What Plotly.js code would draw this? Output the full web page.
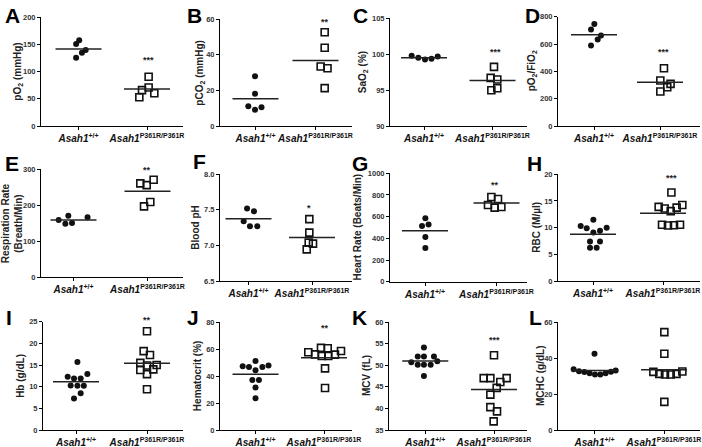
<!DOCTYPE html>
<html><head><meta charset="utf-8">
<script src="https://cdn.plot.ly/plotly-3.0.1.min.js"></script>
<style>html,body{margin:0;padding:0;background:#fff}#plot{width:702px;height:447px}</style>
</head><body><div id="plot"></div>
<script>
// ---- data ----
const groups = ['Asah1+/+', 'Asah1P361R/P361R'];
const tickLabels = ['<b><i>Asah1</i><sup>+/+</sup></b>', '<b><i>Asah1</i><sup>P361R/P361R</sup></b>'];

const aWT = [158, 150.8, 139.7, 134.8, 125.5];
const aWTJit = [0.01, -0.035, 0.105, 0.05, -0.035];
const aMut = [90.5, 70.8, 66, 60.3, 52.9];
const aMutJit = [0.024, 0.024, -0.073, 0.107, -0.112];

const bWT = [28.0, 18.1, 11.1, 9.2, 10.5];
const bWTJit = [-0.008, -0.008, -0.12, -0.008, 0.10];
const bMut = [52.7, 44.0, 33.5, 32.5, 21.3];
const bMutJit = [0.153, 0.153, 0.086, 0.2, 0.153];

const cWT = [99.78, 99.5, 99.27, 99.36, 99.69];
const cWTJit = [-0.18, -0.083, 0.015, 0.11, 0.2];
const cMut = [98.24, 96.7, 96.47, 94.98, 95.26];
const cMutJit = [0.022, -0.027, 0.07, -0.017, 0.07];

const dWT = [746, 707, 663, 634, 590];
const dWTJit = [0.005, -0.045, 0.106, 0.056, -0.045];
const dMut = [423, 333, 308, 284, 252];
const dMutJit = [0.06, 0.005, 0.16, 0.11, 0.005];

const eWT = [171, 167, 159, 149, 151];
const eWTJit = [-0.07, 0.19, -0.2, -0.11, -0.02];
const eMut = [261, 256, 271, 197, 209];
const eMutJit = [-0.097, -0.011, 0.083, -0.047, 0.038];

const fWT = [7.52, 7.48, 7.34, 7.27, 7.27];
const fWTJit = [-0.023, 0.086, -0.076, 0.023, 0.138];
const fMut = [7.37, 7.18, 7.04, 7.025, 6.945];
const fMutJit = [-0.042, -0.042, -0.052, 0.016, -0.083];

const gWT = [585, 514, 528, 412, 311];
const gWTJit = [0.005, -0.042, 0.05, 0.005, 0.005];
const gMut = [782, 763, 708, 683, 689];
const gMutJit = [-0.072, 0.021, -0.119, -0.026, 0.068];

const hWT = [11.5, 10.3, 9.9, 10.0, 9.1, 9.4, 7.4, 7.4, 6.25, 6.25];
const hWTJit = [0.005, -0.176, -0.09, 0.195, 0.005, 0.1, -0.043, 0.1, -0.043, 0.052];
const hMut = [16.6, 13.9, 13.6, 13.1, 13.75, 14.25, 10.55, 10.4, 10.45, 10.55];
const hMutJit = [0.12, -0.062, 0.024, 0.11, 0.195, 0.276, -0.014, 0.071, 0.157, 0.243];

const iWT = [15.7, 12.3, 12.9, 11.9, 11.9, 10.3, 10.2, 10.2, 8.46, 7.3];
const iWTJit = [0.02, -0.117, 0.16, -0.028, 0.066, -0.075, 0.02, 0.11, 0.066, -0.028];
const iMut = [22.8, 18.2, 17.3, 15.5, 14.9, 15.0, 13.85, 14.0, 12.9, 9.4];
const iMutJit = [0, -0.047, 0.042, -0.094, 0, 0.136, -0.094, 0.089, 0, 0];

const jWT = [51.3, 47.3, 46.8, 46.8, 48.0, 44.3, 37.2, 37.2, 31.5, 23.5];
const jWTJit = [0, -0.187, -0.095, 0.1, 0.19, 0, -0.046, 0.05, 0, 0];
const jMut = [61, 60.7, 57.7, 56.2, 55, 55, 56, 58.7, 45.8, 31.2];
const jMutJit = [-0.044, 0.054, -0.229, -0.131, -0.034, 0.063, 0.16, 0.248, 0.015, 0.015];

const kWT = [54.1, 52.0, 52.0, 52.0, 50.7, 50.1, 50.1, 50.1, 50.9, 47.5];
const kWTJit = [-0.02, -0.11, -0.02, 0.126, -0.204, -0.11, -0.02, 0.078, 0.175, -0.02];
const kMut = [52.3, 47.0, 47.0, 46.1, 47.0, 44.75, 43.2, 40.3, 39.3, 37.0];
const kMutJit = [0, -0.15, -0.053, 0.092, 0.184, 0.039, -0.053, -0.053, 0.044, -0.005];

const lWT = [42.4, 33.7, 32.6, 32.2, 31.5, 30.8, 30.8, 31.5, 32.4, 33.0];
const lWTJit = [0, -0.3, -0.223, -0.146, -0.07, 0.007, 0.084, 0.16, 0.237, 0.305];
const lMut = [54.4, 42.4, 32.3, 31.2, 30.8, 30.8, 31.2, 32.5, 15.6];
const lMutJit = [0.005, 0.005, -0.153, -0.067, 0.014, 0.096, 0.18, 0.264, 0.005];

const panelLetters = ['A','B','C','D','E','F','G','H','I','J','K','L'];
const yTitles = ['pO<sub>2</sub> (mmHg)', 'pCO<sub>2</sub> (mmHg)', 'SaO<sub>2</sub> (%)', 'pO<sub>2</sub>/FiO<sub>2</sub>',
  'Respiration Rate<br>(Breath/Min)', 'Blood pH', 'Heart Rate (Beats/Min)', 'RBC (M/µl)',
  'Hb (g/dL)', 'Hematocrit (%)', 'MCV (fL)', 'MCHC (g/dL)'];
const yRanges = [[0,200],[0,60],[90,105],[0,800],[0,300],[6.5,8.0],[0,1000],[0,20],[0,25],[0,80],[35,60],[0,60]];
const yDticks = [50, 20, 5, 200, 100, 0.5, 200, 5, 5, 20, 5, 20];
const sigText = ['***','**','***','***','**','*','**','***','**','**','***',''];
const sigY = [121, 58.7, 100.25, 543, 298, 7.52, 892, 19.25, 25.5, 75.5, 55.9, 0];
const sigJit = [0.024, 0.153, 0.037, 0.06, -0.01, -0.04, -0.026, 0.12, 0, 0.015, 0, 0];

const wtSets = [aWT,bWT,cWT,dWT,eWT,fWT,gWT,hWT,iWT,jWT,kWT,lWT];
const wtJits = [aWTJit,bWTJit,cWTJit,dWTJit,eWTJit,fWTJit,gWTJit,hWTJit,iWTJit,jWTJit,kWTJit,lWTJit];
const mutSets = [aMut,bMut,cMut,dMut,eMut,fMut,gMut,hMut,iMut,jMut,kMut,lMut];
const mutJits = [aMutJit,bMutJit,cMutJit,dMutJit,eMutJit,fMutJit,gMutJit,hMutJit,iMutJit,jMutJit,kMutJit,lMutJit];

// ---- layout geometry (pixels) ----
const W = 702, H = 447;
const geo = [
  {x0:41, c0:78.5, c1:147, x1:183, yt:17.3, yb:126, tx:18, lx:3, ly:2},
  {x0:220, c0:255.5, c1:315.5, x1:352, yt:19.3, yb:126, tx:200, lx:185, ly:2},
  {x0:390, c0:424, c1:492.5, x1:527, yt:18.3, yb:126, tx:363, lx:351, ly:2},
  {x0:558, c0:594, c1:660, x1:700, yt:16.7, yb:126, tx:532, lx:523, ly:2},
  {x0:41, c0:73.5, c1:147.5, x1:183, yt:169.3, yb:277.3, tx:12, lx:3, ly:150},
  {x0:220, c0:248.5, c1:312, x1:352, yt:174.3, yb:281, tx:196, lx:191, ly:148},
  {x0:390, c0:425, c1:496.5, x1:527, yt:173.3, yb:281.7, tx:357, lx:350, ly:150},
  {x0:558, c0:593, c1:663, x1:700, yt:174.3, yb:281, tx:537, lx:525, ly:150},
  {x0:43, c0:76, c1:147, x1:183, yt:321.7, yb:430, tx:21, lx:4, ly:304},
  {x0:220, c0:255.5, c1:324, x1:352, yt:322.3, yb:430, tx:197, lx:185, ly:304},
  {x0:389, c0:425.3, c1:494, x1:527, yt:322, yb:430, tx:366, lx:350, ly:304},
  {x0:558, c0:594.5, c1:664, x1:700, yt:322, yb:430, tx:540, lx:527, ly:304}
];

const FONT = 'Liberation Sans, Arial, Helvetica, sans-serif';
const traces = [];
const layout = {
  width: W, height: H, margin: {l:0, r:0, t:0, b:0},
  paper_bgcolor: '#fff', plot_bgcolor: 'rgba(0,0,0,0)',
  showlegend: false, font: {family: FONT, color: '#222'},
  annotations: []
};
const mean = a => a.reduce((s,v)=>s+v,0)/a.length;

geo.forEach((g, i) => {
  const n = i + 1;
  const sfx = n === 1 ? '' : String(n);
  const xr = 'x' + sfx, yr = 'y' + sfx;
  const s = g.c1 - g.c0;
  const xRange = [-(g.c0 - g.x0)/s, 1 + (g.x1 - g.c1)/s];
  const hw = 23 / s;
  const yRange = yRanges[i];

  layout['xaxis' + sfx] = {
    domain: [g.x0/W, g.x1/W], anchor: yr, range: xRange,
    showline: true, linecolor: '#000', linewidth: 1, showgrid: false, zeroline: false,
    ticks: 'outside', ticklen: 3, tickwidth: 1, tickcolor: '#000',
    tickvals: [0, 1], ticktext: tickLabels, tickangle: 0, ticklabeloverflow: 'allow',
    tickfont: {family: FONT, size: 10, color: '#111'}, fixedrange: true
  };
  const yax = {
    domain: [1 - g.yb/H, 1 - g.yt/H], anchor: xr, range: yRange,
    tick0: yRange[0], dtick: yDticks[i],
    showline: true, linecolor: '#000', linewidth: 1, showgrid: false, zeroline: false,
    ticks: 'outside', ticklen: 3, tickwidth: 1, tickcolor: '#000',
    tickfont: {family: FONT, size: 7.5, color: '#333', weight: 'bold'}, fixedrange: true
  };
  if (i === 5) yax.tickformat = '.1f';
  layout['yaxis' + sfx] = yax;

  traces.push({
    type: 'scatter', mode: 'markers', xaxis: xr, yaxis: yr, cliponaxis: false,
    x: wtJits[i].map(j => 0 + j), y: wtSets[i], name: groups[0],
    marker: {symbol: 'circle', size: 6, color: '#111'}
  });
  traces.push({
    type: 'scatter', mode: 'markers', xaxis: xr, yaxis: yr, cliponaxis: false,
    x: mutJits[i].map(j => 1 + j), y: mutSets[i], name: groups[1],
    marker: {symbol: 'square-open', size: 7, color: '#111', line: {width: 1.6, color: '#111'}}
  });
  [wtSets[i], mutSets[i]].forEach((arr, k) => {
    const m = mean(arr);
    traces.push({
      type: 'scatter', mode: 'lines', xaxis: xr, yaxis: yr, hoverinfo: 'skip',
      x: [k - hw, k + hw], y: [m, m], line: {color: '#222', width: 1.5}
    });
  });

  layout.annotations.push({
    xref: 'paper', yref: 'paper', x: g.lx/W, y: 1 - g.ly/H, xanchor: 'left', yanchor: 'top',
    text: '<b>' + panelLetters[i] + '</b>', showarrow: false,
    font: {family: FONT, size: 21, color: '#000'}
  });
  layout.annotations.push({
    xref: 'paper', yref: 'paper', x: g.tx/W, y: 1 - ((g.yt + g.yb)/2)/H,
    xanchor: 'center', yanchor: 'middle', textangle: -90,
    text: yTitles[i], showarrow: false,
    font: {family: FONT, size: 10, color: '#222', weight: 'bold'}
  });
  if (sigText[i]) {
    layout.annotations.push({
      xref: xr, yref: yr + ' domain', x: 1 + sigJit[i],
      y: (sigY[i] - yRange[0]) / (yRange[1] - yRange[0]),
      xanchor: 'center', yanchor: 'middle',
      text: sigText[i], showarrow: false,
      font: {family: FONT, size: 9, color: '#222', weight: 'bold'}
    });
  }
});

Plotly.newPlot('plot', traces, layout, {displayModeBar: false, staticPlot: true});
</script>
</body></html>
